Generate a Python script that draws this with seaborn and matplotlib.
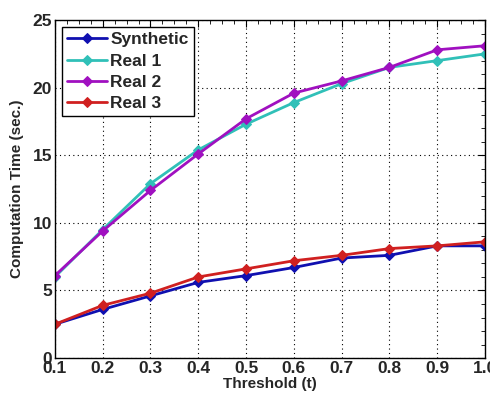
import numpy as np
import pandas as pd
import seaborn as sns
import matplotlib
matplotlib.use("Agg")
import matplotlib.pyplot as plt
from matplotlib.ticker import MultipleLocator

thresholds = [0.1, 0.2, 0.3, 0.4, 0.5, 0.6, 0.7, 0.8, 0.9, 1.0]
synthetic = [2.5, 3.6, 4.6, 5.6, 6.1, 6.7, 7.4, 7.6, 8.3, 8.3]
real1 = [6.0, 9.5, 12.9, 15.4, 17.3, 18.9, 20.3, 21.5, 22.0, 22.5]
real2 = [6.1, 9.4, 12.4, 15.1, 17.7, 19.6, 20.5, 21.5, 22.8, 23.1]
real3 = [2.5, 3.9, 4.8, 6.0, 6.6, 7.2, 7.6, 8.1, 8.3, 8.6]
series_names = ["Synthetic", "Real 1", "Real 2", "Real 3"]
x_ticklabels = ["0.1", "0.2", "0.3", "0.4", "0.5", "0.6", "0.7", "0.8", "0.9", "1.0"]

df = pd.DataFrame({"t": thresholds * 4,
                   "time": synthetic + real1 + real2 + real3,
                   "series": sum([[n] * len(thresholds) for n in series_names], [])})

sns.set_style("white")
plt.rcParams['font.family'] = ['Liberation Sans', 'DejaVu Sans']
plt.rcParams['font.weight'] = 'bold'

fig = plt.figure(figsize=(4.9, 4.01), dpi=100)
ax = fig.add_axes([0.112, 0.107, 0.878, 0.843])

palette = {"Synthetic": "#1010b0", "Real 1": "#30c0b8", "Real 2": "#a010c0", "Real 3": "#d02020"}
sns.lineplot(data=df, x="t", y="time", hue="series", palette=palette, marker="D",
             markersize=5, linewidth=2, ax=ax, legend=True)
for ln in ax.lines:
    ln.set_markeredgecolor(ln.get_color())

ax.set_xlim(0.1, 1.0)
ax.set_ylim(0, 25)
ax.set_xticks(thresholds)
ax.set_xticklabels(x_ticklabels)
ax.set_yticks([0, 5, 10, 15, 20, 25])
ax.xaxis.set_minor_locator(MultipleLocator(0.025))
ax.yaxis.set_minor_locator(MultipleLocator(1))
ax.tick_params(which='both', direction='in', top=True, right=True, color='black')
ax.tick_params(which='major', length=5, labelsize=12.5, pad=2)
ax.tick_params(which='minor', length=3)
for lbl in ax.get_xticklabels() + ax.get_yticklabels():
    lbl.set_fontweight('bold')
ax.grid(True, which='major', linestyle=(0, (1, 3)), color='black', linewidth=0.8)
for s in ax.spines.values():
    s.set_color('black')
    s.set_linewidth(1)
ax.set_xlabel("Threshold (t)", fontsize=11, fontweight='bold', labelpad=1)
ax.set_ylabel("Computation Time (sec.)", fontsize=11, fontweight='bold', labelpad=6)

leg = ax.legend(loc='upper left', fontsize=12.5, frameon=True, fancybox=False,
                edgecolor='black', handlelength=2.3, borderpad=0.3, labelspacing=0.35,
                handletextpad=0.2, borderaxespad=0.4)
leg.get_frame().set_linewidth(1)
leg.get_frame().set_alpha(1)
for t in leg.get_texts():
    t.set_fontweight('bold')
for h in leg.legend_handles:
    h.set_markeredgecolor(h.get_color())

fig.savefig("out.png", dpi=100)
